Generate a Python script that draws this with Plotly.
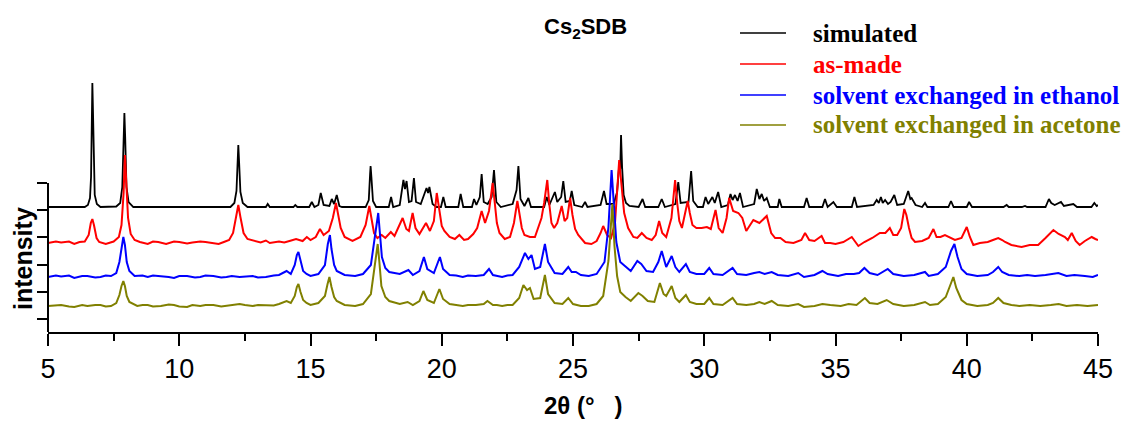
import plotly.graph_objects as go

# Powder XRD patterns of Cs2SDB: (2theta in degrees, intensity in counts above each trace's baseline)
SIMULATED = [
    (5.0, 0), (6.4, 0), (6.52, 20), (6.6, 90), (6.64, 300), (6.67, 900), (6.69, 1240), (6.71, 1000),
    (6.74, 400), (6.78, 120), (6.86, 30), (7.0, 0),
    (7.6, 5), (7.75, 40), (7.83, 200), (7.88, 700), (7.91, 940), (7.94, 700), (7.99, 200), (8.07, 50), (8.25, 0),
    (11.95, 0), (12.1, 40), (12.18, 160), (12.22, 450), (12.25, 620), (12.28, 450), (12.33, 150),
    (12.42, 40), (12.6, 0),
    (13.3, 0), (13.37, 30), (13.45, 0), (14.35, 0), (14.42, 20), (14.5, 0),
    (14.95, 0), (15.05, 50), (15.15, 0), (15.3, 20), (15.39, 140), (15.5, 20),
    (15.72, 10), (15.81, 80), (15.9, 30), (16.0, 120), (16.1, 10), (16.2, 0),
    (17.1, 0), (17.22, 70), (17.27, 330), (17.29, 410), (17.32, 300), (17.38, 60), (17.5, 0),
    (17.98, 0), (18.07, 100), (18.15, 0),
    (18.4, 20), (18.54, 270), (18.6, 180), (18.66, 260), (18.75, 50), (18.85, 60), (18.94, 290),
    (19.02, 50), (19.2, 30), (19.42, 190), (19.48, 140), (19.53, 200), (19.65, 30), (19.8, 0),
    (19.97, 0), (20.06, 100), (20.15, 0), (20.63, 0), (20.72, 130), (20.82, 0),
    (21.15, 0), (21.23, 80), (21.32, 20), (21.45, 100), (21.52, 330), (21.6, 50), (21.75, 30),
    (21.9, 100), (21.99, 370), (22.08, 50), (22.25, 0),
    (22.7, 30), (22.85, 170), (22.92, 410), (23.0, 80), (23.15, 10), (23.3, 90), (23.4, 0),
    (23.9, 0), (24.0, 100), (24.1, 20), (24.31, 150), (24.4, 50), (24.55, 100), (24.63, 260),
    (24.72, 50), (24.88, 60), (24.95, 160), (25.05, 20), (25.35, 0), (25.46, 50), (25.55, 0),
    (26.05, 20), (26.18, 160), (26.28, 30), (26.55, 30), (26.68, 150), (26.74, 420), (26.77, 450),
    (26.8, 380), (26.83, 720), (26.87, 400), (26.93, 120), (27.02, 40), (27.15, 10),
    (27.5, 0), (27.65, 80), (27.75, 0), (28.25, 0), (28.38, 80), (28.5, 0),
    (28.9, 30), (29.01, 250), (29.1, 40), (29.4, 50), (29.5, 360), (29.58, 60), (29.75, 0),
    (29.95, 0), (30.05, 100), (30.15, 30), (30.31, 100), (30.4, 40), (30.53, 150), (30.65, 0),
    (30.9, 20), (31.0, 130), (31.08, 70), (31.17, 120), (31.27, 60), (31.36, 140), (31.48, 0),
    (31.9, 30), (32.0, 180), (32.1, 80), (32.19, 130), (32.28, 60), (32.38, 90), (32.5, 0),
    (32.8, 0), (32.86, 80), (32.95, 0), (33.8, 0), (33.9, 90), (34.0, 0),
    (34.5, 0), (34.6, 80), (34.7, 0), (34.92, 50), (35.05, 0),
    (35.62, 0), (35.72, 100), (35.82, 0),
    (36.45, 20), (36.57, 70), (36.65, 40), (36.73, 100), (36.8, 40), (36.89, 70), (37.0, 30),
    (37.1, 50), (37.24, 120), (37.35, 20), (37.6, 30), (37.77, 160), (37.85, 80), (37.9, 90),
    (38.05, 20), (38.3, 0), (38.41, 40), (38.5, 0),
    (39.3, 0), (39.4, 60), (39.5, 0), (40.0, 0), (40.09, 50), (40.2, 0),
    (41.4, 0), (41.52, 20), (41.6, 0), (42.1, 0), (42.22, 10), (42.3, 0),
    (43.0, 0), (43.13, 80), (43.22, 40), (43.35, 20), (43.59, 50), (43.7, 10), (44.06, 30),
    (44.2, 0), (44.75, 0), (44.86, 40), (44.95, 10), (45.0, 20),
]

AS_MADE = [
    (5.0, 0), (5.3, 15), (5.5, 5), (5.8, 15), (6.0, -10), (6.2, 10), (6.4, 15), (6.55, 80),
    (6.63, 200), (6.69, 240), (6.75, 180), (6.85, 50), (6.95, 10),
    (7.2, -10), (7.5, 15), (7.7, 60), (7.8, 180), (7.88, 500), (7.93, 880), (7.98, 600), (8.05, 250),
    (8.15, 90), (8.3, 30), (8.5, 10), (8.8, -10), (9.0, 15), (9.2, 10), (9.5, -10), (9.8, 15),
    (10.0, 10), (10.3, -5), (10.5, 5), (10.8, 15), (11.0, 10), (11.3, -5), (11.5, -10), (11.7, 10),
    (11.9, 30), (12.05, 100), (12.15, 250), (12.25, 380), (12.33, 260), (12.45, 100), (12.6, 40),
    (12.9, 15), (13.1, 5), (13.3, 25), (13.45, 0), (13.8, 15), (14.0, 5), (14.2, 20), (14.45, 40),
    (14.7, 20), (14.86, 60), (15.0, 30), (15.2, 60), (15.36, 140), (15.5, 80), (15.7, 120),
    (15.85, 250), (15.97, 400), (16.05, 300), (16.15, 150), (16.3, 60), (16.6, 20), (16.9, 60),
    (17.1, 180), (17.24, 370), (17.32, 250), (17.42, 100), (17.55, 50), (17.71, 80), (17.85, 50),
    (18.06, 110), (18.2, 70), (18.35, 150), (18.51, 250), (18.65, 140), (18.75, 120), (18.89, 300),
    (19.0, 150), (19.15, 90), (19.4, 200), (19.55, 120), (19.7, 220), (19.81, 500), (19.9, 320),
    (20.0, 170), (20.1, 120), (20.3, 60), (20.5, 40), (20.67, 80), (20.85, 30), (21.0, 40),
    (21.2, 90), (21.35, 150), (21.52, 320), (21.65, 200), (21.8, 320), (21.94, 600), (22.02, 400),
    (22.1, 200), (22.2, 100), (22.4, 40), (22.6, 60), (22.75, 200), (22.88, 420), (22.97, 280),
    (23.05, 150), (23.15, 80), (23.36, 60), (23.55, 60), (23.8, 250), (23.9, 400), (24.02, 630),
    (24.1, 380), (24.18, 200), (24.28, 150), (24.4, 200), (24.57, 370), (24.68, 220), (24.78, 250),
    (24.89, 450), (24.98, 280), (25.08, 140), (25.2, 80), (25.46, 0), (25.7, -10), (25.9, 20),
    (26.05, 100), (26.15, 170), (26.3, 80), (26.45, 50), (26.6, 200), (26.7, 600), (26.76, 830),
    (26.84, 600), (26.95, 300), (27.1, 150), (27.3, 60), (27.45, 50), (27.62, 100), (27.8, 50),
    (28.0, 30), (28.15, 80), (28.28, 220), (28.4, 100), (28.55, 60), (28.75, 250), (28.89, 630),
    (28.97, 400), (29.05, 220), (29.15, 150), (29.37, 420), (29.45, 300), (29.55, 180), (29.7, 150),
    (29.9, 150), (30.1, 160), (30.25, 140), (30.43, 330), (30.55, 150), (30.7, 100), (30.85, 250),
    (30.95, 450), (31.1, 320), (31.3, 300), (31.45, 250), (31.6, 120), (31.87, 230), (32.1, 200),
    (32.38, 270), (32.55, 100), (32.7, 50), (32.9, 50), (33.1, 10), (33.4, 0), (33.7, 30),
    (33.84, 100), (34.0, 30), (34.2, 20), (34.47, 70), (34.6, 0), (34.8, 0), (35.0, -10),
    (35.3, 10), (35.62, 60), (35.87, -30), (36.1, 10), (36.4, 50), (36.69, 100), (36.9, 100),
    (37.07, 150), (37.2, 80), (37.35, 80), (37.5, 150), (37.62, 340), (37.7, 280), (37.8, 150),
    (37.9, 50), (38.03, 10), (38.3, 20), (38.55, 50), (38.73, 140), (38.85, 60), (39.0, 60),
    (39.17, 80), (39.35, 60), (39.55, 30), (39.8, 50), (40.0, 160), (40.12, 60), (40.25, -20),
    (40.5, 0), (40.8, 10), (41.0, 30), (41.2, 50), (41.35, 30), (41.46, 10), (41.7, -20),
    (42.09, -40), (42.4, -20), (42.72, -20), (43.0, 50), (43.3, 130), (43.5, 90), (43.74, 60),
    (43.85, 30), (44.0, 100), (44.15, 20), (44.3, -20), (44.5, 20), (44.76, 60), (44.9, 40),
    (45.0, 30),
]

ETHANOL = [
    (5.0, 0), (5.3, 15), (5.5, 5), (5.8, 15), (6.0, -10), (6.3, 10), (6.5, 10), (6.8, -5),
    (7.0, 0), (7.2, 15), (7.4, 10), (7.6, 40), (7.72, 150), (7.8, 300), (7.87, 400), (7.93, 320),
    (8.0, 150), (8.1, 60), (8.3, 10), (8.6, 15), (8.8, 0), (9.0, 15), (9.3, 10), (9.6, 0),
    (9.8, -10), (10.0, 10), (10.3, 10), (10.6, -5), (10.8, 0), (11.0, 15), (11.3, 10), (11.6, -5),
    (11.8, 0), (12.0, 10), (12.3, 0), (12.6, 10), (12.8, 10), (13.0, -5), (13.3, 0), (13.6, 15),
    (13.8, 20), (14.09, 60), (14.25, 30), (14.4, 120), (14.48, 220), (14.54, 250), (14.62, 160),
    (14.72, 60), (14.85, 30), (15.0, 10), (15.3, 30), (15.55, 120), (15.66, 330), (15.74, 420),
    (15.8, 280), (15.9, 120), (16.0, 60), (16.3, 20), (16.7, 10), (17.0, 30), (17.3, 120),
    (17.45, 400), (17.58, 640), (17.64, 450), (17.72, 200), (17.85, 90), (18.0, 50), (18.4, 30),
    (18.73, 70), (18.9, 20), (19.15, 60), (19.32, 200), (19.45, 80), (19.7, 40), (19.93, 200),
    (20.05, 80), (20.3, 20), (20.55, 15), (20.8, 0), (21.0, 15), (21.3, 10), (21.6, 20),
    (21.8, 80), (21.95, 20), (22.1, 10), (22.3, 0), (22.5, 15), (22.7, 20), (22.95, 100),
    (23.17, 240), (23.3, 180), (23.42, 220), (23.55, 80), (23.75, 100), (23.93, 330), (24.05, 150),
    (24.3, 40), (24.6, 30), (24.82, 100), (24.95, 50), (25.11, 50), (25.3, 20), (25.6, 10),
    (25.9, 30), (26.2, 150), (26.35, 500), (26.47, 1070), (26.55, 700), (26.65, 350), (26.8, 150),
    (27.0, 100), (27.2, 60), (27.45, 160), (27.6, 130), (27.8, 60), (28.05, 50), (28.25, 150),
    (28.38, 260), (28.55, 100), (28.76, 210), (28.9, 100), (29.05, 50), (29.3, 130), (29.45, 50),
    (29.7, 30), (30.0, 30), (30.19, 90), (30.35, 30), (30.7, 20), (31.08, 90), (31.25, 30),
    (31.6, 20), (31.9, 40), (32.1, 50), (32.3, 30), (32.57, 50), (32.8, 20), (33.2, 10),
    (33.58, 40), (33.8, 0), (34.2, 20), (34.5, 60), (34.7, 30), (35.1, 10), (35.4, 30),
    (35.7, 30), (35.9, 40), (36.1, 90), (36.3, 40), (36.6, 20), (36.99, 80), (37.2, 30),
    (37.6, 10), (38.0, 20), (38.41, 50), (38.55, 10), (38.9, 30), (39.2, 100), (39.4, 260),
    (39.53, 330), (39.65, 200), (39.8, 80), (40.0, 30), (40.4, 10), (40.8, 20), (41.0, 50),
    (41.2, 100), (41.35, 50), (41.6, 20), (42.0, 10), (42.3, 20), (42.6, 10), (43.0, 20),
    (43.49, 40), (43.8, 10), (44.1, 20), (44.5, 10), (44.8, 0), (45.0, 20),
]

ACETONE = [
    (5.0, 0), (5.3, 10), (5.5, 10), (5.8, -5), (6.0, -10), (6.3, 10), (6.5, 0), (6.8, 10),
    (7.0, 10), (7.2, -5), (7.4, 0), (7.6, 30), (7.72, 110), (7.8, 200), (7.87, 250), (7.93, 200),
    (8.0, 100), (8.1, 40), (8.4, 0), (8.6, 10), (8.8, 10), (9.0, -5), (9.3, 0), (9.6, 15),
    (9.8, 10), (10.0, -5), (10.3, -10), (10.5, 10), (10.8, 0), (11.0, 10), (11.3, 10), (11.6, -5),
    (11.8, 0), (12.0, 10), (12.3, 20), (12.5, 10), (12.8, 0), (13.0, 10), (13.3, 10), (13.6, 5),
    (13.8, 20), (14.09, 50), (14.25, 30), (14.4, 100), (14.48, 190), (14.54, 220), (14.62, 140),
    (14.72, 60), (14.85, 30), (15.0, 10), (15.3, 30), (15.55, 100), (15.65, 220), (15.72, 290),
    (15.8, 190), (15.9, 90), (16.0, 50), (16.3, 10), (16.7, 0), (17.0, 20), (17.3, 120),
    (17.45, 400), (17.56, 620), (17.62, 450), (17.7, 200), (17.85, 90), (18.0, 50), (18.4, 20),
    (18.7, 40), (18.9, 10), (19.15, 50), (19.3, 150), (19.45, 60), (19.7, 30), (19.91, 170),
    (20.05, 70), (20.3, 20), (20.55, 10), (20.8, 0), (21.0, 10), (21.3, 10), (21.6, 20),
    (21.74, 50), (21.95, 10), (22.1, 10), (22.3, 0), (22.5, 10), (22.7, 10), (22.95, 80),
    (23.11, 210), (23.25, 160), (23.36, 180), (23.5, 70), (23.75, 80), (23.93, 310), (24.05, 120),
    (24.3, 30), (24.6, 20), (24.82, 80), (25.0, 20), (25.3, 0), (25.6, 0), (25.9, 20),
    (26.15, 100), (26.35, 450), (26.5, 1020), (26.58, 600), (26.68, 300), (26.8, 140), (27.0, 90),
    (27.2, 50), (27.49, 130), (27.65, 100), (27.85, 50), (28.1, 40), (28.31, 230), (28.45, 120),
    (28.55, 100), (28.76, 200), (28.9, 80), (29.05, 40), (29.3, 110), (29.45, 40), (29.7, 20),
    (30.0, 20), (30.19, 80), (30.35, 20), (30.7, 10), (31.08, 80), (31.25, 20), (31.6, 10),
    (31.9, 20), (32.1, 40), (32.3, 20), (32.57, 50), (32.8, 10), (33.2, 0), (33.58, 20),
    (33.8, -10), (34.2, 0), (34.5, 20), (34.8, 10), (35.2, 0), (35.5, 20), (35.8, 10),
    (36.12, 80), (36.3, 30), (36.6, 20), (36.95, 60), (37.2, 20), (37.6, 0), (38.0, 10),
    (38.41, 40), (38.6, 10), (38.9, 20), (39.2, 90), (39.35, 200), (39.49, 290), (39.6, 180),
    (39.8, 60), (40.0, 20), (40.4, 0), (40.8, 10), (41.0, 30), (41.2, 80), (41.4, 30),
    (41.7, 10), (42.0, 0), (42.4, 10), (42.8, 0), (43.2, 10), (43.5, 20), (43.8, 0),
    (44.2, 10), (44.6, 0), (45.0, 10),
]

SERIES_NAMES = ["simulated", "as-made", "solvent exchanged in ethanol", "solvent exchanged in acetone"]
SERIES_DATA = [SIMULATED, AS_MADE, ETHANOL, ACETONE]
SERIES_OFFSETS = [1250, 890, 550, 260]          # vertical stacking offsets (counts)
SERIES_COLORS = ["#000000", "#FF0000", "#0000FF", "#808000"]
SERIES_WIDTHS = [1.8, 2.0, 2.0, 2.0]

X_TICKS = [5, 10, 15, 20, 25, 30, 35, 40, 45]
X_MINOR = [7.5, 12.5, 17.5, 22.5, 27.5, 32.5, 37.5, 42.5]
Y_TICKS = [130, 402, 674, 946, 1218, 1490]     # unlabelled intensity ticks
Y_RANGE = [0, 2700]

fig = go.Figure()
for name, data, off, col, lw in zip(SERIES_NAMES, SERIES_DATA, SERIES_OFFSETS, SERIES_COLORS, SERIES_WIDTHS):
    xs = [p[0] for p in data]
    ys = [p[1] + off for p in data]
    fig.add_trace(go.Scatter(x=xs, y=ys, mode="lines", name=name,
                             line=dict(color=col, width=lw), showlegend=False))

# Figure geometry (pixels) used to place legend and labels in paper coordinates
W, H = 1125, 421
ML, MR, MT, MB = 48, 27, 62, 89
PW, PH = W - ML - MR, H - MT - MB


def px_to_paper(px, py):
    return (px - ML) / PW, (H - MB - py) / PH


shapes = []
annotations = []

# y axis line only spans the ticked part
shapes.append(dict(type="line", xref="paper", yref="y", x0=0, x1=0, y0=Y_RANGE[0], y1=Y_TICKS[-1],
                   line=dict(color="black", width=2)))

# legend: coloured line samples with bold serif labels
legend_rows = [33, 64, 95, 125]
for name, col, py in zip(SERIES_NAMES, SERIES_COLORS, legend_rows):
    x0, yy = px_to_paper(740, py)
    x1, _ = px_to_paper(786, py)
    shapes.append(dict(type="line", xref="paper", yref="paper", x0=x0, x1=x1, y0=yy, y1=yy,
                       line=dict(color=col, width=1.7)))
    tx, _ = px_to_paper(811, py)
    annotations.append(dict(xref="paper", yref="paper", x=tx, y=yy, xanchor="left", yanchor="middle",
                            text=f"<b>{name}</b>", showarrow=False,
                            font=dict(family="Liberation Serif", size=25, color=col)))

# title
tx, ty = px_to_paper(585, 28)
annotations.append(dict(xref="paper", yref="paper", x=tx, y=ty, xanchor="center", yanchor="middle",
                        text="<b>Cs<sub>2</sub>SDB</b>", showarrow=False,
                        font=dict(family="Liberation Sans", size=22, color="black")))

# axis titles
tx, ty = px_to_paper(583, 405)
annotations.append(dict(xref="paper", yref="paper", x=tx, y=ty, xanchor="center", yanchor="middle",
                        text="<b>2θ (°   )</b>", showarrow=False,
                        font=dict(family="Liberation Sans", size=24, color="black")))
tx, ty = px_to_paper(23, 259)
annotations.append(dict(xref="paper", yref="paper", x=tx, y=ty, xanchor="center", yanchor="middle",
                        text="<b>intensity</b>", textangle=-90, showarrow=False,
                        font=dict(family="Liberation Sans", size=25, color="black")))

fig.update_layout(
    width=W, height=H,
    margin=dict(l=ML, r=MR, t=MT, b=MB, pad=0),
    paper_bgcolor="white", plot_bgcolor="white",
    shapes=shapes, annotations=annotations,
    xaxis=dict(range=[5, 45], tickvals=X_TICKS, ticktext=[str(v) for v in X_TICKS],
               ticks="outside", ticklen=12, tickwidth=2, tickcolor="black",
               showline=True, linecolor="black", linewidth=2, showgrid=False, zeroline=False,
               tickfont=dict(family="Liberation Sans", size=27, color="black"),
               minor=dict(tickvals=X_MINOR, ticks="outside", ticklen=7, tickwidth=2, tickcolor="black")),
    yaxis=dict(range=Y_RANGE, tickvals=Y_TICKS, showticklabels=False,
               ticks="outside", ticklen=10, tickwidth=2, tickcolor="black",
               showline=False, showgrid=False, zeroline=False),
)

fig.write_html("out.html")
